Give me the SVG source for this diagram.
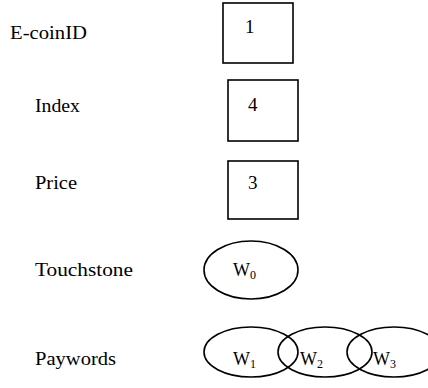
<svg xmlns="http://www.w3.org/2000/svg" width="428" height="388" viewBox="0 0 428 388">
  <style>
    text { font-family: 'Liberation Serif', serif; font-size: 19px; fill: #000; }
    .w { font-size: 18px; }
    .sub { font-size: 12px; }
    .shape { fill: #fff; stroke: #000; stroke-width: 1.6; }
    .ring { fill: none; stroke: #000; stroke-width: 1.6; }
  </style>
  <rect width="428" height="388" fill="#fff"/>

  <!-- field labels -->
  <g id="labels">
    <text x="10" y="38.5" textLength="77" lengthAdjust="spacingAndGlyphs">E-coinID</text>
    <text x="35" y="111.5" textLength="45" lengthAdjust="spacingAndGlyphs">Index</text>
    <text x="35" y="188.5" textLength="42" lengthAdjust="spacingAndGlyphs">Price</text>
    <text x="35" y="276" textLength="98" lengthAdjust="spacingAndGlyphs">Touchstone</text>
    <text x="35" y="364.5" textLength="81" lengthAdjust="spacingAndGlyphs">Paywords</text>
  </g>

  <!-- value boxes -->
  <g id="ecoinid">
    <rect class="shape" x="223" y="3" width="70" height="60"/>
    <text x="245" y="33">1</text>
  </g>
  <g id="index">
    <rect class="shape" x="228" y="80" width="70" height="61"/>
    <text x="248" y="111">4</text>
  </g>
  <g id="price">
    <rect class="shape" x="228" y="161" width="70" height="58"/>
    <text x="248" y="189">3</text>
  </g>

  <!-- hash chain values -->
  <g id="w0">
    <ellipse class="shape" cx="251" cy="270" rx="47" ry="29"/>
    <text class="w" x="233" y="276">W<tspan class="sub" dy="3">0</tspan></text>
  </g>
  <g id="paywords">
    <ellipse class="ring" cx="251" cy="352" rx="47" ry="25"/>
    <ellipse class="ring" cx="325" cy="352" rx="47" ry="25"/>
    <ellipse class="ring" cx="394" cy="352" rx="47" ry="25"/>
  </g>
  <g id="w1">
    <text class="w" x="233" y="365">W<tspan class="sub" dy="3">1</tspan></text>
  </g>
  <g id="w2">
    <text class="w" x="300" y="365">W<tspan class="sub" dy="3">2</tspan></text>
  </g>
  <g id="w3">
    <text class="w" x="373" y="365">W<tspan class="sub" dy="3">3</tspan></text>
  </g>

  <g id="connectors"/>
</svg>
